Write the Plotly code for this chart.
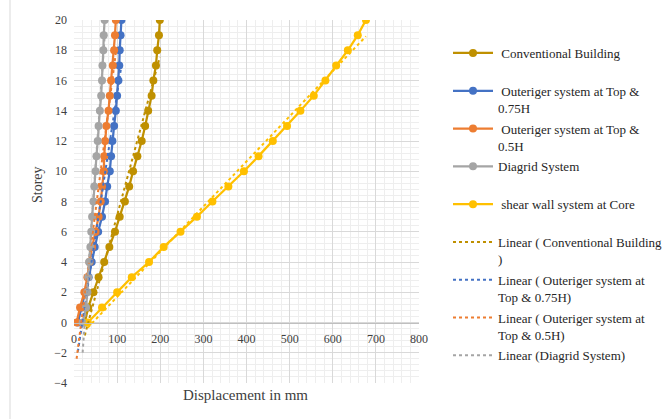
import numpy as np
import plotly.graph_objects as go

storeys = list(range(0, 21))
conventional = [25, 33, 45, 57, 70, 82, 95, 106, 118, 128, 137, 147, 157, 165, 172, 180, 184, 190, 193, 197, 199]
outrigger_075 = [9, 18, 26, 34, 41, 48, 56, 65, 72, 77, 83, 86, 89, 93, 97, 100, 103, 105, 106, 108, 110]
outrigger_05 = [6, 14, 24, 31, 36, 42, 50, 57, 62, 65, 69, 70, 72, 75, 80, 83, 86, 90, 93, 95, 97]
diagrid = [20, 28, 31, 33, 35, 38, 40, 42, 45, 47, 50, 52, 55, 57, 60, 63, 65, 66, 68, 69, 71]
shear_wall = [32, 65, 100, 134, 174, 208, 247, 285, 321, 358, 394, 428, 461, 494, 525, 556, 583, 608, 635, 658, 677]

series_names = [
    "&nbsp;Conventional Building<br>&nbsp;",
    "&nbsp;Outeriger system at Top &amp;<br>0.75H",
    "&nbsp;Outeriger system at Top &amp;<br>0.5H",
    "Diagrid System<br>&nbsp;",
    "&nbsp;shear wall system at Core<br>&nbsp;",
]
trend_names = [
    "Linear ( Conventional Building<br>)",
    "Linear ( Outeriger system at<br>Top &amp; 0.75H)",
    "Linear ( Outeriger system at<br>Top &amp; 0.5H)",
    "Linear (Diagrid System)<br>&nbsp;",
    "Linear ( shear wall system at Core)",
]
colors = ["#BF9000", "#4472C4", "#ED7D31", "#A5A5A5", "#FFC000"]
data = [conventional, outrigger_075, outrigger_05, diagrid, shear_wall]

W, H = 666, 419
L, R, T, B = 74, 419, 20, 383
pw, ph = R - L, B - T

fig = go.Figure()
for i, (vals, name, col) in enumerate(zip(data, series_names, colors)):
    fig.add_trace(go.Scatter(
        x=vals, y=storeys, mode="lines+markers", name=name,
        line=dict(color=col, width=2.25),
        marker=dict(color=col, size=8, symbol="circle"),
        legendgroup="s%d" % i, legendrank=i,
    ))
for i, (vals, name, col) in enumerate(zip(data, trend_names, colors)):
    xs = np.array(vals, dtype=float)
    ys = np.array(storeys, dtype=float)
    a, b = np.polyfit(xs, ys, 1)
    xr = np.array([xs.min(), xs.max()])
    fig.add_trace(go.Scatter(
        x=xr, y=a * xr + b, mode="lines", name=name,
        line=dict(color=col, width=2, dash="dot"),
        legendgroup="t%d" % i, legendrank=10 + i,
        showlegend=(i < 4),
    ))

font = "Liberation Serif"
fig.update_layout(
    width=W, height=H,
    margin=dict(l=L, r=W - R, t=T, b=H - B, autoexpand=False),
    paper_bgcolor="white", plot_bgcolor="white",
    font=dict(family=font, size=12, color="#404040"),
    showlegend=True,
    legend=dict(
        x=(448 - L) / pw, y=(B - 38) / ph, xanchor="left", yanchor="top",
        font=dict(family=font, size=13, color="#262626"),
        valign="top", tracegroupgap=1, itemwidth=40,
        bgcolor="rgba(0,0,0,0)",
    ),
    xaxis=dict(
        range=[0, 800], dtick=100, tick0=0,
        showgrid=True, gridcolor="#D9D9D9", gridwidth=1,
        minor=dict(dtick=20, showgrid=True, gridcolor="#EEEEEE", gridwidth=1),
        zeroline=False,
        anchor="free", position=4 / 24,
        showline=True, linecolor="#BFBFBF", linewidth=1,
        ticks="", ticklabelstandoff=5,
        tickfont=dict(family=font, size=12, color="#404040"),
    ),
    yaxis=dict(
        range=[-4, 20], dtick=2, tick0=0,
        showgrid=True, gridcolor="#D9D9D9", gridwidth=1,
        minor=dict(dtick=0.4, showgrid=True, gridcolor="#EEEEEE", gridwidth=1),
        zeroline=False, showline=False,
        ticks="", ticklabelstandoff=6,
        tickfont=dict(family=font, size=12, color="#404040"),
    ),
    annotations=[
        dict(text="Storey", xref="paper", yref="paper",
             x=(37 - L) / pw, y=(B - 185) / ph, textangle=-90,
             xanchor="center", yanchor="middle",
             showarrow=False, font=dict(family=font, size=14, color="#404040")),
        dict(text="Displacement in mm", xref="paper", yref="paper",
             x=(245 - L) / pw, y=(B - 395) / ph,
             xanchor="center", yanchor="middle",
             showarrow=False, font=dict(family=font, size=15, color="#404040")),
    ],
    shapes=[
        dict(type="line", xref="paper", yref="paper",
             x0=(10 - L) / pw, x1=(10 - L) / pw, y0=(B - 0) / ph, y1=(B - 419) / ph,
             line=dict(color="#D9D9D9", width=1)),
    ],
)

fig.write_html("out.html")
